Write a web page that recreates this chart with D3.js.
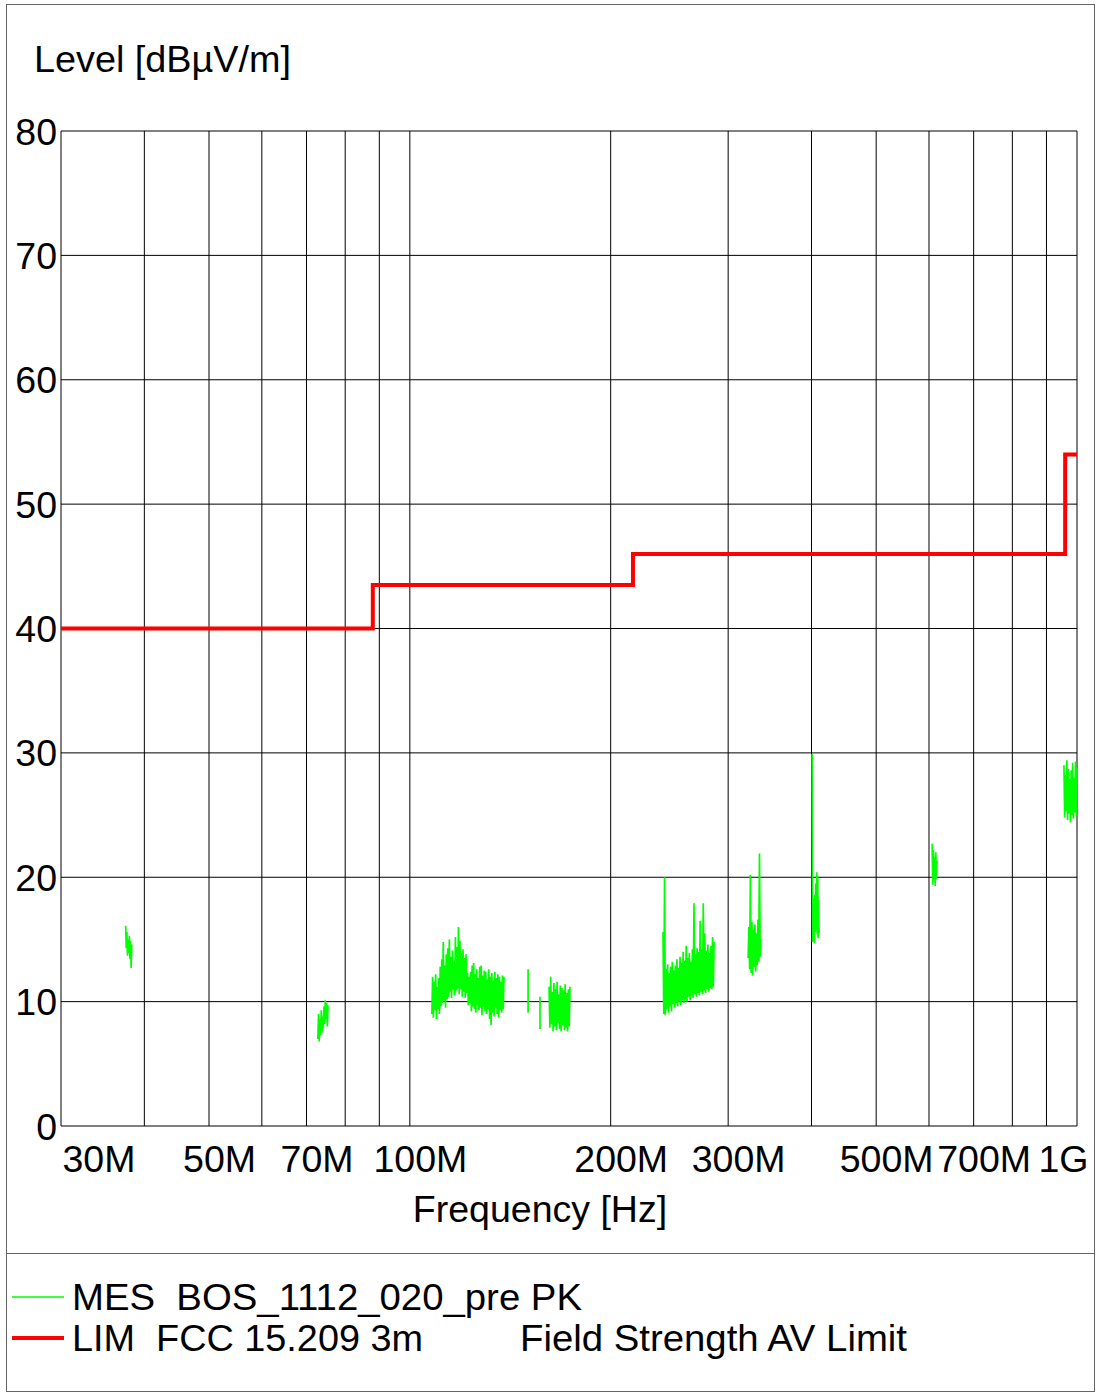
<!DOCTYPE html>
<html><head><meta charset="utf-8">
<script src="https://cdn.jsdelivr.net/npm/d3@7"></script>
<style>
html,body{margin:0;padding:0;background:#fff;}
svg{display:block;font-family:"Liberation Sans", Arial, sans-serif;}
</style></head><body>
<svg id="chart" width="1096" height="1394"></svg>
<script>
// ---- data ----
const yTicks = [0, 10, 20, 30, 40, 50, 60, 70, 80];
const xGridMHz = [30, 40, 50, 60, 70, 80, 90, 100, 200, 300, 400, 500, 600, 700, 800, 900, 1000];
const xTickMHz = [30, 50, 70, 100, 200, 300, 500, 700, 1000];
const xTickLabels = ["30M", "50M", "70M", "100M", "200M", "300M", "500M", "700M", "1G"];

const limitFreqMHz = [30, 88, 88, 216, 216, 960, 960, 1000];
const limitLevel   = [40, 40, 43.5, 43.5, 46, 46, 54, 54];

// measured peak trace: sweep segments (start/end frequency, MHz) and their levels (dBµV/m)
const mesStartMHz = [37.5, 72.8, 107.9, 150.4, 156.7, 161.7, 239.6, 321.4, 400.8, 606.6, 956];
const mesEndMHz   = [38.3, 75.4, 138.4, 150.4, 156.7, 173.8, 285.8, 336.0, 410.6, 616.9, 1000];
const mesLevels = [
  [16.1, 14.3, 15.6, 13.7, 15.0, 13.9, 15.3, 13.4, 14.9, 12.7, 14.6],
  [7.0, 9.0, 6.8, 8.6, 7.3, 9.3, 7.5, 8.8, 7.9, 9.6, 8.2, 10.1, 8.6, 9.9, 8.0, 9.7],
  [9.0, 12.0, 8.7, 11.6, 9.3, 12.2, 8.6, 11.2, 9.4, 11.9, 9.0,
   12.8, 9.6, 13.4, 9.9, 14.8, 10.1, 12.9, 9.5, 13.8, 10.2,
   14.3, 10.4, 15.0, 10.8, 13.6, 10.3, 14.1, 11.0, 13.2, 10.5, 15.2, 10.9, 14.4, 11.1,
   16.0, 10.6, 14.9, 11.0, 13.9, 10.4, 14.2, 10.8, 13.5, 10.3, 13.8, 10.7,
   12.3, 9.7, 12.0, 9.9,
   12.4, 9.2, 12.9, 9.6, 13.1, 9.4, 12.2, 9.1, 12.6, 9.8, 11.9, 9.3, 12.8, 9.5, 12.9, 8.9,
   12.1, 9.6, 12.5, 9.2, 12.4, 9.0, 11.8, 9.4, 12.6, 8.6, 12.0, 8.1, 12.3, 9.1, 11.7, 8.8,
   12.4, 9.5, 11.9, 9.0, 12.2, 8.7, 12.0, 9.3, 11.6, 9.1, 12.1, 9.4, 12.0],
  [12.6, 9.1],
  [10.4, 7.8],
  [11.2, 7.9, 12.0, 8.2, 10.8, 7.6, 11.5, 8.0, 11.0, 7.7, 11.6, 8.3, 10.6, 7.8, 11.3, 7.6,
   11.1, 8.1, 10.9, 7.7, 11.4, 7.9, 10.7, 7.6, 11.0, 8.0, 11.2],
  [15.6, 9.0, 20.0, 8.9, 12.6, 9.4, 13.0, 9.1, 12.3, 9.6, 12.8, 9.2, 13.2, 9.8, 12.5, 9.5,
   12.9, 9.9, 13.4, 9.6, 12.7, 10.0, 13.6, 9.7, 13.1, 10.1, 14.0, 9.9, 13.3, 10.2, 14.5, 10.0,
   13.5, 10.4, 13.9, 10.1, 13.2, 10.5, 14.2, 10.3, 17.9, 10.6, 13.8, 10.4, 14.3, 10.7, 14.0, 10.5,
   16.5, 10.8, 14.2, 10.6, 17.9, 10.9, 15.5, 10.7, 14.1, 11.0, 14.6, 10.8, 13.9, 11.1, 14.5, 11.0,
   15.2, 11.2, 14.8],
  [13.5, 16.0, 12.6, 20.2, 12.3, 16.4, 12.1, 15.8, 12.8, 16.2, 12.4, 15.5, 12.9, 16.6, 13.2, 21.9, 13.6, 15.0],
  [29.9, 14.8, 18.3, 15.2, 17.9, 14.7, 18.6, 15.6, 19.5, 16.0, 20.4, 15.4, 20.1, 15.1, 18.2, 15.5],
  [22.7, 19.4, 22.2, 19.8, 21.6, 19.3, 22.0, 19.9, 21.3],
  [29.0, 24.8, 28.2, 25.3, 29.4, 24.6, 28.7, 25.1, 27.9, 24.4, 28.6, 25.0, 29.2, 24.7, 28.0, 25.2, 29.3, 24.9, 28.8]
];

const legendLabels = ["MES  BOS_1112_020_pre PK", "LIM  FCC 15.209 3m"];
const legendExtra = ["", "Field Strength AV Limit"];
const legendColors = ["#00ff00", "#ff0000"];

// ---- chart ----
const svg = d3.select("#chart");
const FONT = 37.5;
const x = d3.scaleLog().domain([30, 1000]).range([61, 1077]);
const y = d3.scaleLinear().domain([0, 80]).range([1126, 131]);

svg.append("rect").attr("x", 6.5).attr("y", 4.5).attr("width", 1088).attr("height", 1387)
  .attr("fill", "#fff").attr("stroke", "#666").attr("stroke-width", 1);
svg.append("line").attr("x1", 6).attr("x2", 1095).attr("y1", 1253.5).attr("y2", 1253.5)
  .attr("stroke", "#666").attr("stroke-width", 1);

// grid
svg.append("g").selectAll("line").data(yTicks).join("line")
  .attr("x1", x(30)).attr("x2", x(1000))
  .attr("y1", d => y(d)).attr("y2", d => y(d))
  .attr("stroke", "#000").attr("stroke-width", 1);
svg.append("g").selectAll("line").data(xGridMHz).join("line")
  .attr("x1", d => x(d)).attr("x2", d => x(d))
  .attr("y1", y(80)).attr("y2", y(0))
  .attr("stroke", "#000").attr("stroke-width", 1);

// y axis labels
const gy = svg.append("g").attr("transform", `translate(${x(30)},0)`)
  .call(d3.axisLeft(y).tickValues(yTicks).tickSize(0).tickPadding(4).tickFormat(d3.format("d")));
gy.select(".domain").remove();
gy.selectAll("text").attr("font-size", FONT).attr("font-family", "Liberation Sans, Arial, sans-serif")
  .attr("fill", "#000").attr("dy", null).attr("y", 13);

// x axis labels
const gx = svg.append("g").attr("transform", `translate(0,${y(0)})`)
  .call(d3.axisBottom(x).tickValues(xTickMHz).tickSize(0).tickFormat((d, i) => xTickLabels[i]));
gx.select(".domain").remove();
gx.selectAll("text").attr("font-size", FONT).attr("font-family", "Liberation Sans, Arial, sans-serif")
  .attr("fill", "#000").attr("dy", null).attr("y", 46).attr("x", 10)
  .each(function(d) {
    const w = this.getComputedTextLength();
    let c = x(d) + 10;
    if (c - w / 2 < 62) c = 62 + w / 2;
    if (c + w / 2 > 1088) c = 1088 - w / 2;
    d3.select(this).attr("x", c - x(d));
  });

// titles
svg.append("text").attr("x", 34).attr("y", 72).attr("font-size", FONT)
  .attr("textLength", 257).attr("lengthAdjust", "spacingAndGlyphs").text("Level [dBµV/m]");
svg.append("text").attr("x", 540).attr("y", 1222).attr("text-anchor", "middle")
  .attr("font-size", FONT).text("Frequency [Hz]");

// measured trace
const line = d3.line().x(d => x(d[0])).y(d => y(d[1]));
const segs = mesLevels.map((lv, k) => {
  const a = Math.log(mesStartMHz[k]), b = Math.log(mesEndMHz[k]);
  const n = lv.length;
  return lv.map((v, i) => [Math.exp(a + (n > 1 ? (b - a) * i / (n - 1) : 0)), v]);
});
svg.append("g").selectAll("path").data(segs).join("path")
  .attr("d", line).attr("fill", "none").attr("stroke", "#00ff00").attr("stroke-width", 1.7)
  .attr("stroke-linejoin", "bevel");

// limit
const limData = limitFreqMHz.map((f, i) => [f, limitLevel[i]]);
svg.append("path").datum(limData).attr("d", line).attr("fill", "none")
  .attr("stroke", "#ff0000").attr("stroke-width", 4);

// legend
const lg = svg.append("g");
const legendWidths = [510, 351];
legendLabels.forEach((lab, i) => {
  const yy = 1297 + i * 41;
  lg.append("line").attr("x1", 12).attr("x2", 64).attr("y1", yy).attr("y2", yy)
    .attr("stroke", legendColors[i]).attr("stroke-width", i === 0 ? 1.5 : 4);
  lg.append("text").attr("x", 72).attr("y", yy + 13).attr("font-size", FONT)
    .attr("textLength", legendWidths[i]).attr("lengthAdjust", "spacingAndGlyphs")
    .style("white-space", "pre").text(lab);
  if (legendExtra[i]) lg.append("text").attr("x", 520).attr("y", yy + 13).attr("font-size", FONT)
    .attr("textLength", 387).attr("lengthAdjust", "spacingAndGlyphs").text(legendExtra[i]);
});
</script>
</body></html>
